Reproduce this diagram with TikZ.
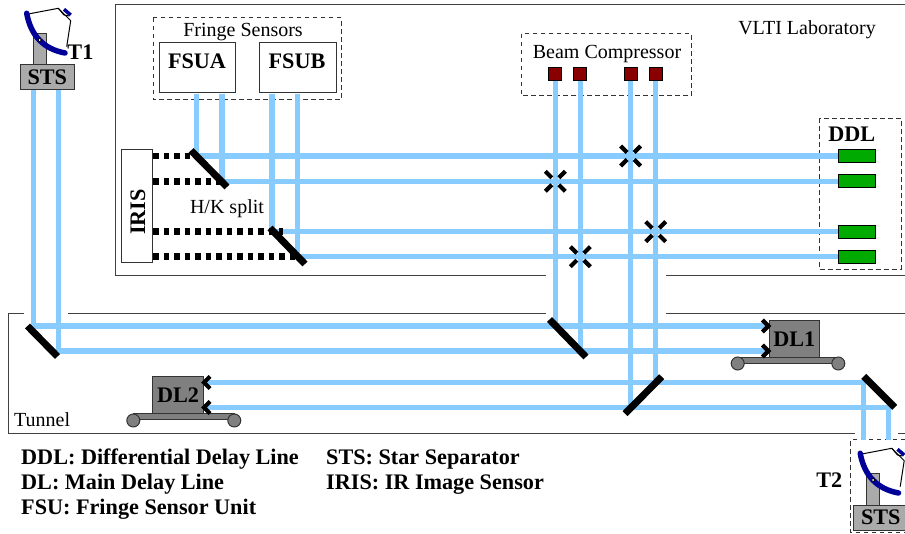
\documentclass[tikz,border=0pt]{standalone}
\usepackage{fontspec}
\setmainfont{Liberation Serif}
\definecolor{beamblue}{HTML}{88CCFF}
\definecolor{scopeblue}{HTML}{000099}
\definecolor{stsgray}{HTML}{AAAAAA}
\definecolor{dlgray}{HTML}{808080}
\definecolor{ddlgreen}{HTML}{00AA00}
\definecolor{bcred}{HTML}{880000}
\newcommand{\rmtext}{\fontsize{20}{22}\selectfont}
\newcommand{\bftext}{\fontsize{22.2}{24}\selectfont\bfseries}
\tikzset{
  x=1pt,y=-1pt,
  beam/.style={draw=beamblue,line width=5.4pt},
  wall/.style={draw=black!75,line width=1pt},
  mirrorbar/.style={draw=black,line width=7pt},
  irisdots/.style={draw=black,line width=6.5pt,dash pattern=on 5.5pt off 5pt},
  dashbox/.style={draw=black!80,line width=1pt,dash pattern=on 4.5pt off 3.5pt},
  labelrm/.style={inner sep=0pt,font=\rmtext},
  labelbf/.style={inner sep=0pt,font=\bftext},
  plainbox/.style={draw=black!80,line width=1pt,fill=white,minimum width=#1,inner sep=0pt},
  stsbox/.style={draw=black!80,line width=1pt,fill=stsgray,minimum width=54pt,minimum height=25pt,inner sep=0pt,font=\bftext},
  dlbox/.style={draw=black!80,line width=1pt,fill=dlgray,minimum width=50.5pt,minimum height=37.3pt,inner sep=0pt,font=\bftext},
  dlwheel/.style={circle,draw=black!80,line width=1pt,fill=dlgray,minimum size=13pt,inner sep=0pt},
  ddlbox/.style={draw=black,line width=1pt,fill=ddlgreen,minimum width=37.5pt,minimum height=12.7pt,inner sep=0pt},
  bcbox/.style={draw=black,line width=1pt,fill=bcred,minimum size=13pt,inner sep=0pt},
  chevron/.style={draw=black,line width=4.2pt,miter limit=10},
  crossarm/.style={draw=black,line width=4.2pt},
}
\begin{document}
\begin{tikzpicture}
\useasboundingbox (0,0) rectangle (905,534);
\fill[white] (0,0) rectangle (905,534);

% walls
\draw[wall] (546,276) -- (115,276) -- (115,5) -- (905,5);
\draw[wall] (666,276) -- (905,276);
\draw[wall] (24,313.5) -- (8,313.5) -- (8,433) -- (855,433);
\draw[wall] (68,313.5) -- (546,313.5);
\draw[wall] (666,313.5) -- (905,313.5);
\draw[wall] (898,433) -- (905,433);

% dashed groups
\draw[dashbox] (153,18) rectangle (341,100);
\draw[dashbox] (521,34) rectangle (691,96);
\draw[dashbox] (819.3,118.3) rectangle (901,269.3);
\draw[dashbox] (905,439.5) -- (850.7,439.5) -- (850.7,532) -- (905,532);

% named points of the beam train
\coordinate (t1a) at (33.3,90);   \coordinate (t1b) at (58.3,90);
\coordinate (ma) at (33.3,326);   \coordinate (mb) at (58.3,351);
\coordinate (dl1a) at (768,326);  \coordinate (dl1b) at (768,351);
\coordinate (dl2a) at (204,382.5);\coordinate (dl2b) at (204,407.5);
\coordinate (ra) at (863.3,382.5);\coordinate (rb) at (888.7,407.5);
\coordinate (t2a) at (863.3,440); \coordinate (t2b) at (888.7,440);
\coordinate (bc1e) at (555.3,326);\coordinate (bc2e) at (580.3,351);
\coordinate (bc3e) at (630.7,407.5);\coordinate (bc4e) at (655.7,382.5);
\coordinate (fa1) at (196.7,94);  \coordinate (fa2) at (222,94);
\coordinate (fb1) at (272,94);    \coordinate (fb2) at (297.3,94);
\coordinate (ha1) at (196.7,156); \coordinate (ha2) at (222,181.3);
\coordinate (hb1) at (272,231.7); \coordinate (hb2) at (297.3,256.7);

% nodes that the beams end on
\node[ddlbox] (ddl1) at (857.2,156) {};
\node[ddlbox] (ddl2) at (857.2,181.3) {};
\node[ddlbox] (ddl3) at (857.2,231.7) {};
\node[ddlbox] (ddl4) at (857.2,256.7) {};

% beams
\draw[beam] (t1a) -- (ma) -- (dl1a);
\draw[beam] (t1b) -- (mb) -- (dl1b);
\draw[beam] (dl2a) -- (ra) -- (t2a);
\draw[beam] (dl2b) -- (rb) -- (t2b);
\draw[beam] (555.3,75) -- (bc1e);
\draw[beam] (580.3,75) -- (bc2e);
\draw[beam] (630.7,75) -- (bc3e);
\draw[beam] (655.7,75) -- (bc4e);
\draw[beam] (fa1) -- (ha1) -- (ddl1.west);
\draw[beam] (fa2) -- (ha2) -- (ddl2.west);
\draw[beam] (fb1) -- (hb1) -- (ddl3.west);
\draw[beam] (fb2) -- (hb2) -- (ddl4.west);

% redraw the DDL boxes on top of the beam ends
\node[ddlbox] at (ddl1) {};
\node[ddlbox] at (ddl2) {};
\node[ddlbox] at (ddl3) {};
\node[ddlbox] at (ddl4) {};

% fringe sensors
\node[plainbox=76pt,minimum height=50pt,font=\bftext] (fsua) at (197,68) {};
\node[plainbox=77pt,minimum height=50pt,font=\bftext] (fsub) at (297.5,68) {};
\node[labelbf] at (197,61) {FSUA};
\node[labelbf] at (297,61) {FSUB};
\node[labelrm] (fslabel) at (243,32.5) {Fringe Sensors};

% beam compressor
\node[labelrm] (bclabel) at (607,54.5) {Beam Compressor};
\node[bcbox] (bc1) at (555.3,74.5) {};
\node[bcbox] (bc2) at (580.3,74.5) {};
\node[bcbox] (bc3) at (630.7,74.5) {};
\node[bcbox] (bc4) at (655.7,74.5) {};

% IRIS
\node[plainbox=31.4pt,minimum height=112.7pt] (iris) at (137,206.3) {};
\node[labelbf,rotate=90] at (138,212) {IRIS};
\draw[irisdots] (153,156) -- (190,156);
\draw[irisdots] (153,181.3) -- (225,181.3);
\draw[irisdots] (153,231.7) -- (283,231.7);
\draw[irisdots] (153,256.7) -- (296,256.7);

% mirrors
\draw[mirrorbar] (191,150.5) -- (227,187);
\draw[mirrorbar] (270,228) -- (305,264);
\draw[mirrorbar] (27.5,326) -- (57.5,356.5);
\draw[mirrorbar] (549.5,319.5) -- (586,357);
\draw[mirrorbar] (661.7,376.7) -- (625,413.7);
\draw[mirrorbar] (863.7,376.3) -- (894.7,407.3);

% crossing marks
\foreach \cx/\cy in {555.3/181.3,630.7/156,580.3/256.7,655.7/231.7}{
  \draw[crossarm] (\cx-10,\cy-10) -- (\cx-3.5,\cy-3.5);
  \draw[crossarm] (\cx+10,\cy-10) -- (\cx+3.5,\cy-3.5);
  \draw[crossarm] (\cx-10,\cy+10) -- (\cx-3.5,\cy+3.5);
  \draw[crossarm] (\cx+10,\cy+10) -- (\cx+3.5,\cy+3.5);
}

% DL1
\draw[draw=black!80,line width=1pt,fill=dlgray] (737.7,357.3) rectangle (838.3,364);
\node[dlwheel] (w1a) at (737.7,363.5) {};
\node[dlwheel] (w1b) at (838.3,363.5) {};
\node[dlbox] (dl1) at (794.3,338.7) {DL1};
\draw[chevron] (762.3,320) -- (768.3,326) -- (762.3,332);
\draw[chevron] (762.3,345) -- (768.3,351) -- (762.3,357);

% DL2
\draw[draw=black!80,line width=1pt,fill=dlgray] (133.3,413.6) rectangle (234.3,420);
\node[dlwheel] (w2a) at (133.3,420.5) {};
\node[dlwheel] (w2b) at (234.3,420.5) {};
\node[dlbox] (dl2) at (178,394.7) {DL2};
\draw[chevron] (210,376.5) -- (204,382.5) -- (210,388.5);
\draw[chevron] (210,401.5) -- (204,407.5) -- (210,413.5);

% telescopes
\foreach \ox/\oy/\nm in {0/0/a,833.5/440/b}{
\begin{scope}[shift={(\ox,\oy)}]
  \draw[draw=black!80,line width=1pt,fill=stsgray] (33.3,33.3) rectangle (46,65);
  \node[stsbox] (sts\nm) at (47.3,77.5) {STS};
  \draw[black,line width=1pt] (28.3,14) -- (58.3,8.3) -- (70.7,20.7) -- (66.7,46.7);
  \draw[black,line width=1pt] (58.3,8.3) -- (64,15) -- (69,16);
  \draw[scopeblue,line width=5.5pt,line cap=round] (26.7,13.3) .. controls (30.8,35.7) and (43.6,49) .. (65,53);
  \draw[scopeblue,line width=3.5pt] (64,9.3) -- (70.7,15);
  \draw[black,fill=white,line width=0.8pt] (39.7,40) circle (1.8pt);
\end{scope}}
\node[labelbf] (t1) at (80.4,52) {T1};
\node[labelbf] (t2) at (829.2,480) {T2};

% labels
\node[labelrm,anchor=east] (vlti) at (876,29.5) {VLTI Laboratory};
\node[labelrm] (hk) at (227,208.2) {H/K split};
\node[labelrm,anchor=west] (tunnel) at (14,420) {Tunnel};
\node[labelbf] (ddl) at (851.7,134) {DDL};
\node[labelbf,anchor=west] (k1) at (21,459.5) {DDL: Differential Delay Line};
\node[labelbf,anchor=west] (k2) at (21,484.5) {DL: Main Delay Line};
\node[labelbf,anchor=west] (k3) at (21,509.5) {FSU: Fringe Sensor Unit};
\node[labelbf,anchor=west] (k4) at (326,459.5) {STS: Star Separator};
\node[labelbf,anchor=west] (k5) at (326,484.5) {IRIS: IR Image Sensor};
\end{tikzpicture}
\end{document}
